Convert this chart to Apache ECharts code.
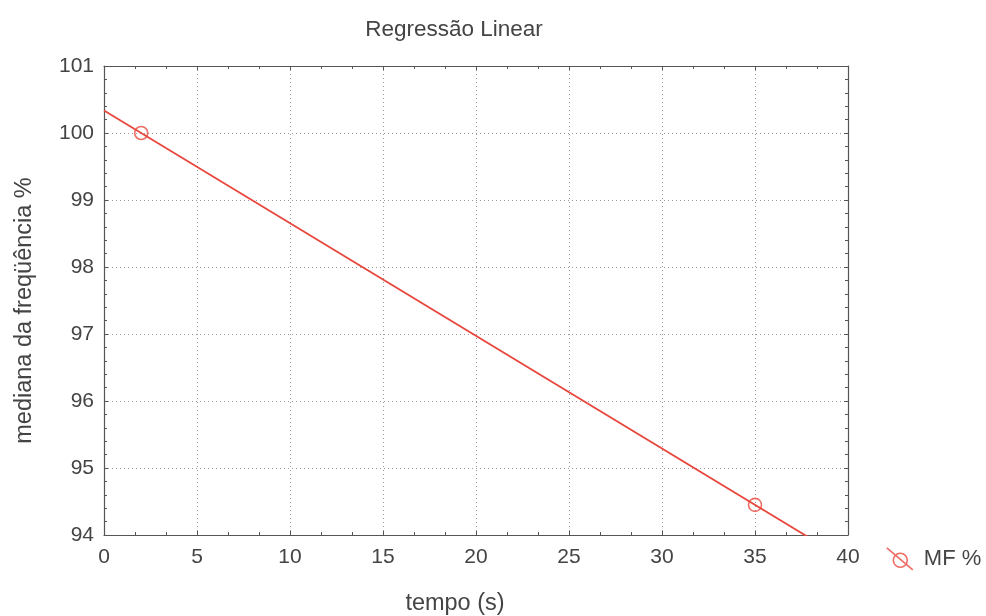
<!DOCTYPE html>
<html>
<head>
<meta charset="utf-8">
<script src="https://cdn.jsdelivr.net/npm/echarts@6/dist/echarts.min.js"></script>
<style>
  html, body { margin: 0; padding: 0; background: #ffffff; }
  #chart { width: 986px; height: 616px; }
</style>
</head>
<body>
<div id="chart"></div>
<script>
// Measured points: time (s) and median frequency (%)
const tempo = [2, 35];
const mf = [100, 94.45];
const xTicks = [0, 40, 5];   // min, max, interval
const yTicks = [94, 101, 1];

// Least-squares fit through the measured points
function fit(xs, ys) {
  const n = xs.length;
  const mx = xs.reduce((a, b) => a + b, 0) / n;
  const my = ys.reduce((a, b) => a + b, 0) / n;
  let sxy = 0, sxx = 0;
  for (let i = 0; i < n; i++) {
    sxy += (xs[i] - mx) * (ys[i] - my);
    sxx += (xs[i] - mx) * (xs[i] - mx);
  }
  const b = sxy / sxx;
  return { a: my - b * mx, b: b };
}
const reg = fit(tempo, mf);
const fitLine = [xTicks[0], xTicks[1]].map(x => [x, reg.a + reg.b * x]);

const RED = '#e8473d';
const AXIS = '#555555';
const TEXT = '#444444';
const FONT = 'Liberation Sans, Arial, sans-serif';

// Shared axis styling: inward ticks, dotted grid at the major ticks
function axisStyle(opts, grid) {
  return Object.assign({
    axisLine: { show: true, onZero: false, lineStyle: { color: AXIS, width: 1.2 } },
    axisTick: { show: true, inside: true, length: 4, lineStyle: { color: AXIS } },
    splitLine: grid
      ? { show: true, lineStyle: { color: '#9a9a9a', type: [1, 3], width: 1 } }
      : { show: false }
  }, opts);
}

const chart = echarts.init(document.getElementById('chart'), null, { renderer: 'canvas' });
chart.setOption({
  animation: false,
  backgroundColor: '#ffffff',
  textStyle: { fontFamily: FONT },
  title: {
    text: 'Regressão Linear',
    left: 449, top: 13, textAlign: 'center',
    textStyle: { fontSize: 22.5, fontWeight: 'normal', color: TEXT, fontFamily: FONT }
  },
  grid: { left: 104, top: 66, right: 138, bottom: 81, outerBoundsMode: 'none', containLabel: false },
  legend: {
    left: 881, top: 542,
    icon: 'path://M0,0 L26,22 M20.5,12.5 A7,7 0 1,1 6.5,12.5 A7,7 0 1,1 20.5,12.5',
    itemWidth: 26, itemHeight: 22,
    itemStyle: { color: 'transparent', borderColor: RED, borderWidth: 1.6 },
    textStyle: { fontSize: 22, color: TEXT, fontFamily: FONT, padding: [0, 0, 0, 6] },
    data: ['MF %']
  },
  xAxis: [
    axisStyle({
      type: 'value', min: xTicks[0], max: xTicks[1], interval: xTicks[2],
      minorTick: { show: true, splitNumber: 3, length: 3, lineStyle: { color: AXIS } },
      axisLabel: { fontSize: 21, color: TEXT, margin: 12, fontFamily: FONT },
      name: 'tempo (s)', nameLocation: 'middle', nameGap: 57,
      nameTextStyle: { fontSize: 23.5, color: TEXT, fontFamily: FONT, padding: [0, 42, 0, 0] }
    }, true),
    axisStyle({
      type: 'value', position: 'top', min: xTicks[0], max: xTicks[1], interval: xTicks[2],
      minorTick: { show: true, splitNumber: 3, length: 3, lineStyle: { color: AXIS } },
      axisLabel: { show: false }
    }, false)
  ],
  yAxis: [
    axisStyle({
      type: 'value', min: yTicks[0], max: yTicks[1], interval: yTicks[2],
      minorTick: { show: true, splitNumber: 5, length: 3, lineStyle: { color: AXIS } },
      axisLabel: { fontSize: 21, color: TEXT, margin: 10, fontFamily: FONT },
      name: 'mediana da freqüência %', nameLocation: 'middle', nameGap: 67,
      nameTextStyle: { fontSize: 23.5, color: TEXT, fontFamily: FONT, padding: [0, 20, 0, 0] }
    }, true),
    axisStyle({
      type: 'value', position: 'right', min: yTicks[0], max: yTicks[1], interval: yTicks[2],
      minorTick: { show: true, splitNumber: 5, length: 3, lineStyle: { color: AXIS } },
      axisLabel: { show: false }
    }, false)
  ],
  series: [
    {
      name: 'fit',
      type: 'line',
      data: fitLine,
      showSymbol: false,
      clip: true,
      lineStyle: { color: RED, width: 1.8 },
      silent: true,
      z: 2
    },
    {
      name: 'MF %',
      type: 'scatter',
      data: tempo.map((t, i) => [t, mf[i]]),
      symbol: 'circle',
      symbolSize: 13,
      itemStyle: { color: 'transparent', borderColor: RED, borderWidth: 1.6 },
      z: 3
    }
  ]
});
</script>
</body>
</html>
